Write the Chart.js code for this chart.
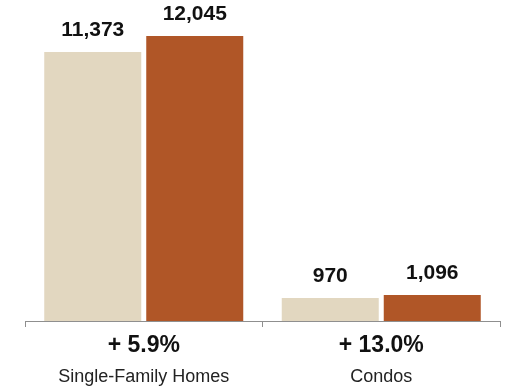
<!DOCTYPE html>
<html>
<head>
<meta charset="utf-8">
<script src="https://cdn.jsdelivr.net/npm/chart.js@4/dist/chart.umd.min.js"></script>
<style>
  html, body { margin: 0; padding: 0; background: #ffffff; }
  #wrap { width: 505px; height: 387px; position: relative; }
</style>
</head>
<body>
<div id="wrap"><canvas id="chart"></canvas></div>
<script>
// Sales by property type, prior year vs. current year
const categories = ['Single-Family Homes', 'Condos'];
const changeLabels = ['+ 5.9%', '+ 13.0%'];
const priorYear = [11373, 970];
const currentYear = [12045, 1096];

const FONT = '"Liberation Sans", Arial, Helvetica, sans-serif';
const AXIS_GREY = '#8f8f8f';

// Writes the formatted value above each bar
const valueLabels = {
  id: 'valueLabels',
  afterDatasetsDraw(chart) {
    const ctx = chart.ctx;
    ctx.save();
    ctx.font = 'bold 21px ' + FONT;
    ctx.fillStyle = '#111111';
    ctx.textAlign = 'center';
    ctx.textBaseline = 'alphabetic';
    chart.data.datasets.forEach((ds, di) => {
      chart.getDatasetMeta(di).data.forEach((bar, i) => {
        ctx.fillText(ds.data[i].toLocaleString('en-US'), bar.x, bar.y - 16);
      });
    });
    ctx.restore();
  }
};

new Chart(document.getElementById('chart'), {
  type: 'bar',
  data: {
    labels: categories,
    datasets: [
      { label: 'Prior Year', data: priorYear, backgroundColor: '#E2D7C0' },
      { label: 'Current Year', data: currentYear, backgroundColor: '#B05627' }
    ]
  },
  options: {
    responsive: true,
    maintainAspectRatio: false,
    animation: false,
    events: [],
    categoryPercentage: 0.859,
    barPercentage: 0.951,
    layout: { padding: { left: 25, right: 5, top: 0, bottom: 0 } },
    plugins: {
      legend: { display: false },
      tooltip: { enabled: false }
    },
    scales: {
      x: {
        position: 'bottom',
        weight: 0,
        offset: true,
        afterFit: (scale) => { scale.height = 36; },
        grid: {
          display: true,
          offset: true,
          drawOnChartArea: false,
          drawTicks: true,
          tickLength: 6,
          color: AXIS_GREY,
          lineWidth: 1
        },
        border: { display: true, color: AXIS_GREY, width: 1 },
        ticks: {
          padding: 7,
          color: '#111111',
          font: { family: FONT, size: 23, weight: 'bold', lineHeight: 1 },
          callback: (v, i) => changeLabels[i]
        }
      },
      xName: {
        type: 'category',
        position: 'bottom',
        weight: 1,
        offset: true,
        afterFit: (scale) => { scale.height = 30; },
        grid: { display: false, drawTicks: false },
        border: { display: false },
        ticks: {
          padding: 11.4,
          color: '#222222',
          font: { family: FONT, size: 18, lineHeight: 1 },
          callback: (v, i) => categories[i]
        }
      },
      y: {
        display: false,
        min: 0,
        max: 13570
      }
    }
  },
  plugins: [valueLabels]
});
</script>
</body>
</html>
